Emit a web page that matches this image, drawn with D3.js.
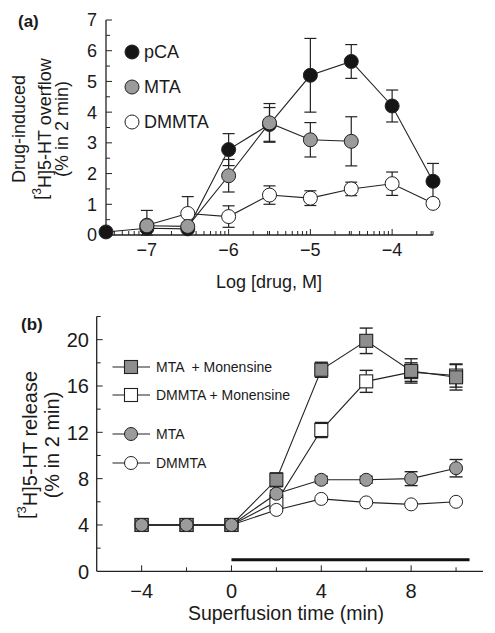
<!DOCTYPE html>
<html><head><meta charset="utf-8">
<script src="https://cdn.jsdelivr.net/npm/d3@7"></script>
<style>
body{margin:0;background:#fff;}
text{font-family:Arial,"Liberation Sans",sans-serif;fill:#1a1a1a;}
</style></head><body>
<svg id="c" width="495" height="633"></svg>
<script>
// ---------- Panel (a) data ----------
const pcaX = [-7.5,-7,-6.5,-6,-5.5,-5,-4.5,-4,-3.5];
const pcaY = [0.1,0.22,0.2,2.78,3.6,5.2,5.65,4.2,1.75];
const pcaE = [0,0,0.1,0.52,0.55,1.2,0.55,0.52,0.58];
const mtaX = [-7,-6.5,-6,-5.5,-5,-4.5];
const mtaY = [0.3,0.28,1.93,3.65,3.1,3.05];
const mtaE = [0.5,0.12,0.53,0.63,0.56,0.8];
const dmX = [-7,-6.5,-6,-5.5,-5,-4.5,-4,-3.5];
const dmY = [0.32,0.7,0.6,1.3,1.2,1.5,1.67,1.03];
const dmE = [0.08,0.55,0.35,0.3,0.24,0.22,0.38,0.1];
const aYTicks = [0,1,2,3,4,5,6,7];
const aXTicks = [-7,-6,-5,-4];
const aLegend = ["pCA","MTA","DMMTA"];

// ---------- Panel (b) data ----------
const timeX = [-4,-2,0,2,4,6,8,10];
const mtaMonY = [4,4,4,7.9,17.4,19.9,17.3,16.75];
const mtaMonE = [0.3,0.3,0.3,0.6,0.65,1.1,1.05,1.1];
const dmMonY  = [4,4,4,6.0,12.2,16.4,17.2,16.9];
const dmMonE  = [0.3,0.3,0.3,0.6,0.65,0.95,0.8,1.0];
const mtaBY   = [4,4,4,6.7,7.9,7.9,8.0,8.9];
const mtaBE   = [0.2,0.2,0.2,0.3,0.3,0.3,0.6,0.75];
const dmBY    = [4,4,4,5.3,6.25,5.95,5.78,6.0];
const dmBE    = [0.2,0.2,0.2,0.2,0.2,0.2,0.2,0.2];
const bYTicks = [0,4,8,12,16,20];
const bXTicks = [-4,0,4,8];
const bLegend = ["MTA  + Monensine","DMMTA + Monensine","MTA","DMMTA"];
const exposure = [0,10.6];
const exposureLevel = 1;

const svg = d3.select("#c");
const GRAY = "#9b9b9b", DARK = "#151515";
const fmt = d => d < 0 ? "\u2212" + Math.abs(d) : String(d);

// ================= Panel (a) =================
const xA = d3.scaleLinear().domain([-7.5,-3.5]).range([106,433]);
const yA = d3.scaleLinear().domain([0,7]).range([235,20]);
const gA = svg.append("g");

gA.append("line").attr("x1",xA(-7.5)).attr("x2",xA(-3.5)).attr("y1",yA(0)).attr("y2",yA(0)).attr("stroke","#222").attr("stroke-width",1.3);
gA.append("line").attr("x1",xA(-7.5)).attr("x2",xA(-7.5)).attr("y1",yA(0)).attr("y2",yA(7)).attr("stroke","#222").attr("stroke-width",1.3);
d3.range(0,7.01,0.5).forEach(v=>{
  const major = Math.abs(v-Math.round(v))<1e-6;
  gA.append("line").attr("x1",xA(-7.5)).attr("x2",xA(-7.5)+(major?6:4)).attr("y1",yA(v)).attr("y2",yA(v)).attr("stroke","#222").attr("stroke-width",1);
});
gA.selectAll(".ylab").data(aYTicks).enter().append("text")
  .attr("x",97).attr("y",d=>yA(d)).attr("dy","0.36em").attr("text-anchor","end").attr("font-size",18).text(d=>d);
const logTicks=[];
for(let dec=-8; dec<=-4; dec++){
  for(let m=1;m<=9;m++){
    const v = dec + Math.log10(m);
    if(v>=-7.5-1e-9 && v<=-3.5+0.03) logTicks.push({v:v, major:m===1});
  }
}
logTicks.forEach(t=>{
  gA.append("line").attr("x1",xA(t.v)).attr("x2",xA(t.v)).attr("y1",yA(0)).attr("y2",yA(0)-(t.major?6:4)).attr("stroke","#222").attr("stroke-width",1);
});
[-6.5,-5.5,-4.5,-3.5].forEach(v=>{
  gA.append("line").attr("x1",xA(v)).attr("x2",xA(v)).attr("y1",yA(0)).attr("y2",yA(0)-4).attr("stroke","#222").attr("stroke-width",1);
});
gA.selectAll(".xlab").data(aXTicks).enter().append("text")
  .attr("x",d=>xA(d)).attr("y",256).attr("text-anchor","middle").attr("font-size",18).text(fmt);
gA.append("text").attr("x",269).attr("y",288).attr("text-anchor","middle").attr("font-size",18).text("Log [drug, M]");
const yt = gA.append("g").attr("transform","translate(0,129)");
yt.append("text").attr("transform","translate(19,0) rotate(-90)").attr("dy","0.35em").attr("text-anchor","middle").attr("font-size",18).text("Drug-induced");
const t2 = yt.append("text").attr("transform","translate(41,0) rotate(-90)").attr("dy","0.35em").attr("text-anchor","middle").attr("font-size",18);
t2.append("tspan").text("[");
t2.append("tspan").attr("font-size",12).attr("dy","-0.55em").text("3");
t2.append("tspan").attr("dy","0.55em").text("H]5-HT overflow");
yt.append("text").attr("transform","translate(62,0) rotate(-90)").attr("dy","0.35em").attr("text-anchor","middle").attr("font-size",18).text("(% in 2 min)");
gA.append("text").attr("x",18).attr("y",27).attr("font-size",17).attr("font-weight","bold").text("(a)");

function seriesA(xs,ys,es,fill){
  const pts = xs.map((x,i)=>({x:x,y:ys[i],e:es[i]}));
  gA.append("path").attr("d",d3.line().x(d=>xA(d.x)).y(d=>yA(d.y))(pts)).attr("fill","none").attr("stroke","#222").attr("stroke-width",1.1);
  pts.forEach(p=>{
    if(p.e>0){
      const x=xA(p.x), y1=yA(p.y+p.e), y2=yA(Math.max(0,p.y-p.e));
      gA.append("line").attr("x1",x).attr("x2",x).attr("y1",y1).attr("y2",y2).attr("stroke","#222").attr("stroke-width",1.2);
      [y1,y2].forEach(y=>gA.append("line").attr("x1",x-6).attr("x2",x+6).attr("y1",y).attr("y2",y).attr("stroke","#222").attr("stroke-width",1.2));
    }
  });
  pts.forEach(p=>{
    gA.append("circle").attr("cx",xA(p.x)).attr("cy",yA(p.y)).attr("r",7).attr("fill",fill).attr("stroke","#222").attr("stroke-width",1);
  });
}
seriesA(pcaX,pcaY,pcaE,DARK);
seriesA(dmX,dmY,dmE,"#fff");
seriesA(mtaX,mtaY,mtaE,GRAY);

const legFills=[DARK,GRAY,"#fff"];
aLegend.forEach((name,i)=>{
  const y=[52,87,122][i];
  gA.append("circle").attr("cx",132).attr("cy",y).attr("r",7).attr("fill",legFills[i]).attr("stroke","#222").attr("stroke-width",1);
  gA.append("text").attr("x",144).attr("y",y).attr("dy","0.36em").attr("font-size",18).text(name);
});

// ================= Panel (b) =================
const xB = d3.scaleLinear().domain([-6,11.2]).range([96.7,483]);
const yB = d3.scaleLinear().domain([0,22]).range([571.3,316.5]);
const gB = svg.append("g");
gB.append("line").attr("x1",xB(-6)).attr("x2",xB(11.2)).attr("y1",yB(0)).attr("y2",yB(0)).attr("stroke","#222").attr("stroke-width",1.3);
gB.append("line").attr("x1",xB(-6)).attr("x2",xB(-6)).attr("y1",yB(0)).attr("y2",yB(22)).attr("stroke","#222").attr("stroke-width",1.3);
d3.range(2,22.01,2).forEach(v=>{
  const major = v%4===0;
  gB.append("line").attr("x1",xB(-6)).attr("x2",xB(-6)+(major?6:4)).attr("y1",yB(v)).attr("y2",yB(v)).attr("stroke","#222").attr("stroke-width",1);
});
d3.range(-4,10.01,2).forEach(v=>{
  const major = v%4===0;
  gB.append("line").attr("x1",xB(v)).attr("x2",xB(v)).attr("y1",yB(0)).attr("y2",yB(0)-(major?6:4)).attr("stroke","#222").attr("stroke-width",1);
});
gB.selectAll(".ylb").data(bYTicks).enter().append("text")
  .attr("x",89).attr("y",d=>yB(d)).attr("dy","0.36em").attr("text-anchor","end").attr("font-size",20).text(d=>d);
gB.selectAll(".xlb").data(bXTicks).enter().append("text")
  .attr("x",d=>xB(d)).attr("y",598).attr("text-anchor","middle").attr("font-size",20).text(fmt);
gB.append("text").attr("x",286).attr("y",620).attr("text-anchor","middle").attr("font-size",19.5).text("Superfusion time (min)");
const ytb = gB.append("g").attr("transform","translate(0,445)");
const tb1 = ytb.append("text").attr("transform","translate(26,0) rotate(-90)").attr("dy","0.35em").attr("text-anchor","middle").attr("font-size",20);
tb1.append("tspan").text("[");
tb1.append("tspan").attr("font-size",13).attr("dy","-0.55em").text("3");
tb1.append("tspan").attr("dy","0.55em").text("H]5-HT release");
ytb.append("text").attr("transform","translate(52,0) rotate(-90)").attr("dy","0.35em").attr("text-anchor","middle").attr("font-size",20).text("(% in 2 min)");
gB.append("text").attr("x",21).attr("y",330).attr("font-size",17).attr("font-weight","bold").text("(b)");

gB.append("line").attr("x1",xB(exposure[0])).attr("x2",xB(exposure[1])).attr("y1",yB(exposureLevel)).attr("y2",yB(exposureLevel)).attr("stroke","#111").attr("stroke-width",3);

function seriesB(ys,es,fill,shape){
  const pts = timeX.map((x,i)=>({x:x,y:ys[i],e:es[i]}));
  gB.append("path").attr("d",d3.line().x(d=>xB(d.x)).y(d=>yB(d.y))(pts)).attr("fill","none").attr("stroke","#222").attr("stroke-width",1.1);
  pts.forEach(p=>{
    if(p.e>0.25){
      const x=xB(p.x), y1=yB(p.y+p.e), y2=yB(p.y-p.e);
      gB.append("line").attr("x1",x).attr("x2",x).attr("y1",y1).attr("y2",y2).attr("stroke","#222").attr("stroke-width",1.2);
      [y1,y2].forEach(y=>gB.append("line").attr("x1",x-6.5).attr("x2",x+6.5).attr("y1",y).attr("y2",y).attr("stroke","#222").attr("stroke-width",1.4));
    }
  });
  pts.forEach(p=>marker(gB,xB(p.x),yB(p.y),fill,shape));
}
function marker(g,x,y,fill,shape){
  if(shape==="sq") g.append("rect").attr("x",x-6.5).attr("y",y-6.5).attr("width",13).attr("height",13).attr("fill",fill).attr("stroke","#222").attr("stroke-width",1.1);
  else g.append("circle").attr("cx",x).attr("cy",y).attr("r",6.5).attr("fill",fill).attr("stroke","#222").attr("stroke-width",1);
}
const SQG="#8e8e8e";
seriesB(dmMonY,dmMonE,"#fff","sq");
seriesB(mtaMonY,mtaMonE,SQG,"sq");
seriesB(dmBY,dmBE,"#fff","c");
seriesB(mtaBY,mtaBE,GRAY,"c");

const bFills=[SQG,"#fff",GRAY,"#fff"], bShapes=["sq","sq","c","c"], bRows=[367,395,434,463];
bLegend.forEach((name,i)=>{
  const y=bRows[i];
  gB.append("line").attr("x1",112.5).attr("x2",150).attr("y1",y).attr("y2",y).attr("stroke","#222").attr("stroke-width",1.1);
  marker(gB,131,y,bFills[i],bShapes[i]);
  gB.append("text").attr("x",156).attr("y",y).attr("dy","0.36em").attr("font-size",14).style("white-space","pre").text(name);
});
</script>
</body></html>
